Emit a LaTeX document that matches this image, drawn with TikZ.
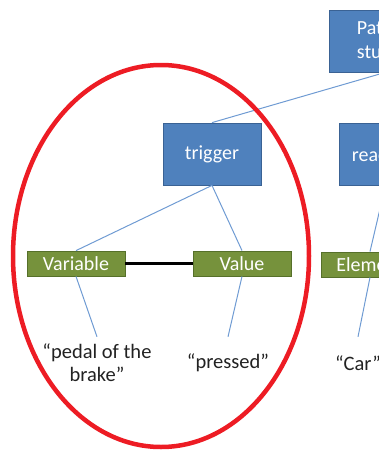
\documentclass[tikz,border=0pt]{standalone}
\usepackage{fontspec}
\usetikzlibrary{shapes.geometric}
\setmainfont{Carlito}
\definecolor{boxblue}{HTML}{4F81BD}
\definecolor{boxblueedge}{HTML}{3A6294}
\definecolor{boxgreen}{HTML}{76923C}
\definecolor{boxgreenedge}{HTML}{56702A}
\definecolor{linkblue}{HTML}{6F9BD3}
\definecolor{markred}{HTML}{ED1C24}
\definecolor{labelgray}{HTML}{222222}
\begin{document}
\begin{tikzpicture}[x=1pt,y=-1pt,
  bluebox/.style={draw=boxblueedge,line width=0.8pt,fill=boxblue,text=white,
    font=\fontsize{20}{24}\selectfont,minimum height=62pt,inner sep=0pt,align=center},
  greenbox/.style={draw=boxgreenedge,line width=0.8pt,fill=boxgreen,text=white,
    font=\fontsize{20}{24}\selectfont,minimum width=98pt,minimum height=25pt,inner sep=0pt},
  leaf/.style={text=labelgray,font=\fontsize{20.5}{23}\selectfont,align=center,
    minimum height=52pt,inner sep=0pt},
  link/.style={draw=linkblue,line width=1pt},
  pair/.style={draw=black,line width=2.4pt}]
\useasboundingbox (0,0) rectangle (379,450);
\begin{scope}
\clip (0,0) rectangle (379,450);
% tree nodes
\node[bluebox,text width=54pt,inner xsep=27.5pt,align=left,anchor=north west] (pat) at (329,10) {Pattern\\study};
\node[bluebox,minimum width=98pt] (trig) at (212,154) {trigger};
\node[bluebox,minimum width=92pt,anchor=north west] (reac) at (339,123) {reaction};
\node[greenbox] (var) at (76,263.5) {Variable};
\node[greenbox] (val) at (242,263.5) {Value};
\node[greenbox] (elem) at (370,264.5) {Element};
% leaf texts
\node[leaf] (brake) at (97,363) {“pedal of the\\brake”};
\node[leaf] (pressed) at (228,363) {“pressed”};
\node[leaf] (car) at (358,363) {“Car”};
% connectors
\draw[link] (pat.south) -- (trig.north);
\draw[link] (trig.south) -- (var.north);
\draw[link] (trig.south) -- (val.north);
\draw[link] (reac.south) -- (elem.north);
\draw[link] (var.south) -- (brake.north);
\draw[link] (val.south) -- (pressed.north);
\draw[link] (elem.south) -- (car.north);
\draw[pair] (var.east) -- (val.west);
% highlight ring
\node[draw=markred,line width=4.5pt,ellipse,minimum width=296pt,minimum height=382pt,inner sep=0pt] (ring) at (161,256) {};
\end{scope}
\end{tikzpicture}
\end{document}
